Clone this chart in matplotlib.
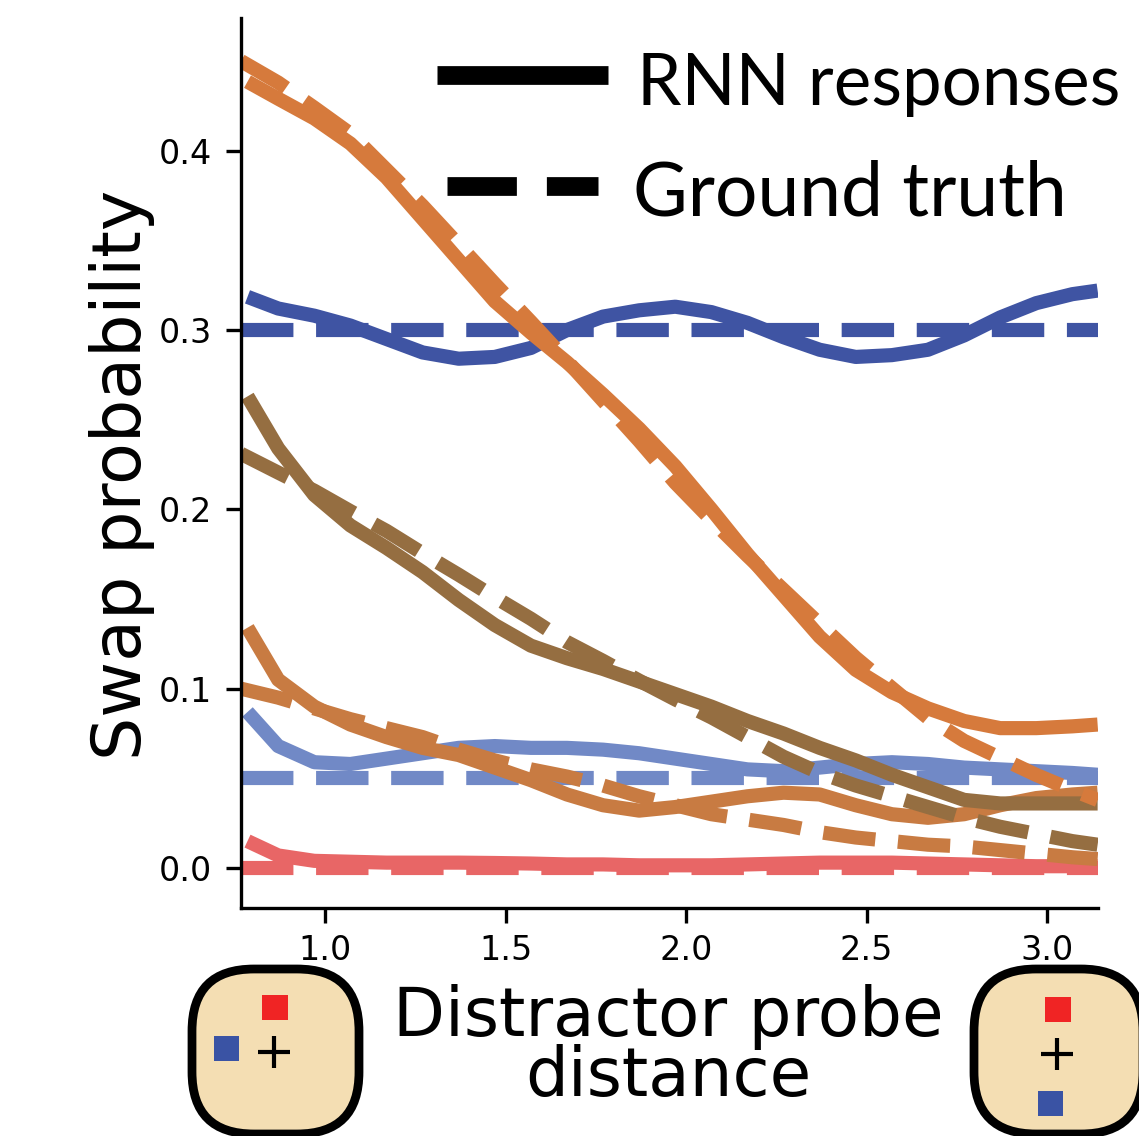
import matplotlib
matplotlib.use("Agg")
import matplotlib.pyplot as plt
from matplotlib.patches import FancyBboxPatch, Rectangle

W, H = 1139, 1136

# solid curves start a touch later than the dashed ones
x_rnn = [0.785, 0.87, 0.97, 1.07, 1.17, 1.27, 1.37, 1.47, 1.57, 1.67, 1.77, 1.87, 1.97,
         2.07, 2.17, 2.27, 2.37, 2.47, 2.57, 2.67, 2.77, 2.87, 2.97, 3.07, 3.14]
x_gt = [0.767] + x_rnn[1:]

# RNN responses
rnn_red = [0.015, 0.007, 0.004, 0.0035, 0.003, 0.003, 0.003, 0.0028, 0.0025, 0.002, 0.002, 0.0015, 0.0015,
           0.0015, 0.002, 0.0025, 0.003, 0.003, 0.003, 0.0025, 0.002, 0.0015, 0.001, 0.001, 0.001]
rnn_lightblue = [0.087, 0.068, 0.059, 0.058, 0.061, 0.064, 0.067, 0.068, 0.067, 0.067, 0.066, 0.064, 0.061,
                 0.058, 0.055, 0.054, 0.056, 0.058, 0.059, 0.058, 0.056, 0.055, 0.054, 0.053, 0.052]
rnn_lightorange = [0.134, 0.105, 0.09, 0.08, 0.073, 0.067, 0.063, 0.056, 0.049, 0.041, 0.035, 0.032, 0.034,
                   0.037, 0.04, 0.042, 0.041, 0.035, 0.03, 0.028, 0.03, 0.035, 0.039, 0.041, 0.042]
rnn_brown = [0.263, 0.234, 0.208, 0.191, 0.1785, 0.165, 0.1495, 0.1355, 0.124, 0.117, 0.111, 0.104, 0.097,
             0.09, 0.082, 0.075, 0.067, 0.06, 0.052, 0.045, 0.038, 0.036, 0.036, 0.036, 0.036]
rnn_blue = [0.3185, 0.312, 0.308, 0.3025, 0.295, 0.2875, 0.284, 0.285, 0.29, 0.30, 0.3075, 0.311, 0.313,
            0.31, 0.304, 0.296, 0.289, 0.285, 0.286, 0.289, 0.297, 0.307, 0.315, 0.32, 0.322]
rnn_orange = [0.4385, 0.429, 0.418, 0.404, 0.385, 0.362, 0.339, 0.316, 0.2985, 0.282, 0.264, 0.245, 0.224,
              0.20, 0.175, 0.152, 0.129, 0.1105, 0.098, 0.089, 0.082, 0.078, 0.078, 0.079, 0.08]

# ground truth
gt_red = [0.0] * len(x_gt)
gt_lightblue = [0.05] * len(x_gt)
gt_lightorange = [0.1, 0.095, 0.089, 0.083, 0.078, 0.073, 0.066, 0.06, 0.055, 0.051, 0.046, 0.04, 0.035,
                  0.03, 0.027, 0.024, 0.02, 0.017, 0.015, 0.013, 0.012, 0.01, 0.008, 0.006, 0.005]
gt_brown = [0.231, 0.2205, 0.2104, 0.199, 0.188, 0.1755, 0.1635, 0.151, 0.139, 0.126, 0.1155, 0.1045, 0.094,
            0.084, 0.073, 0.062, 0.053, 0.046, 0.04, 0.034, 0.028, 0.023, 0.019, 0.015, 0.013]
gt_blue = [0.30] * len(x_gt)
gt_orange = [0.45, 0.438, 0.424, 0.4095, 0.3894, 0.3693, 0.3476, 0.3258, 0.3046, 0.2828, 0.2605, 0.2382, 0.2148,
             0.1941, 0.1741, 0.1551, 0.1361, 0.1172, 0.1004, 0.0837, 0.0709, 0.0614, 0.0519, 0.0435, 0.0379]

series = [
    (rnn_red, gt_red, "#E86666"),
    (rnn_lightblue, gt_lightblue, "#7189C6"),
    (rnn_lightorange, gt_lightorange, "#C87B42"),
    (rnn_brown, gt_brown, "#956E41"),
    (rnn_blue, gt_blue, "#3F54A3"),
    (rnn_orange, gt_orange, "#D67A3C"),
]

fig = plt.figure(figsize=(W / 300, H / 300), dpi=300)
ax = fig.add_axes([241 / W, 1 - 908 / H, (1098 - 241) / W, (908 - 18) / H])

for rnn, gt, col in series:
    ax.plot(x_gt, gt, "--", color=col, lw=3.4)
    ax.plot(x_rnn, rnn, "-", color=col, lw=3.4, solid_capstyle="butt")

ax.set_xlim(0.767, 3.141)
ax.set_ylim(-0.0223, 0.474)
ax.set_xticks([1.0, 1.5, 2.0, 2.5, 3.0])
ax.set_yticks([0.0, 0.1, 0.2, 0.3, 0.4])
ax.tick_params(labelsize=8)
ax.tick_params(axis="x", pad=2.8)
ax.spines["top"].set_visible(False)
ax.spines["right"].set_visible(False)
ax.set_ylabel("Swap probability", fontsize=16.4, labelpad=0.8, y=0.4865)
ax.set_xlabel("Distractor probe\ndistance", fontsize=16.2, linespacing=0.9, labelpad=3.9, x=0.4985)

# overlay in pixel coords for the legend and the stimulus icons
ov = fig.add_axes([0, 0, 1, 1], zorder=5)
ov.set_xlim(0, W)
ov.set_ylim(H, 0)
ov.axis("off")

ov.plot([437, 608], [75, 75], "-", color="black", lw=4.5, solid_capstyle="butt")
ov.plot([447, 598], [186, 186], "--", color="black", lw=4.5)
ov.text(637, 105, "RNN responses", fontsize=17, family="Lato", va="baseline", ha="left")
ov.text(633, 215, "Ground truth", fontsize=18, family="Lato", va="baseline", ha="left")


def icon(left, right, red, blue, plus):
    r = 62
    box = FancyBboxPatch((left + r, 969 + r), right - left - 2 * r, 165 - 2 * r,
                         boxstyle=f"round,pad={r},rounding_size={r}",
                         fc="#F4DEB3", ec="black", lw=2.1)
    ov.add_patch(box)
    ov.add_patch(Rectangle(red, 26, 25, fc="#F02424", ec="none"))
    ov.add_patch(Rectangle(blue, 25, 25, fc="#3A53A4", ec="none"))
    ov.plot(*plus, marker="+", color="black", ms=7.6, mew=1.0)


icon(192, 359, (262, 995), (214, 1036), (274, 1052))
icon(974, 1143, (1045, 997), (1038, 1091), (1057, 1054))

fig.savefig("out.png", dpi=300)
